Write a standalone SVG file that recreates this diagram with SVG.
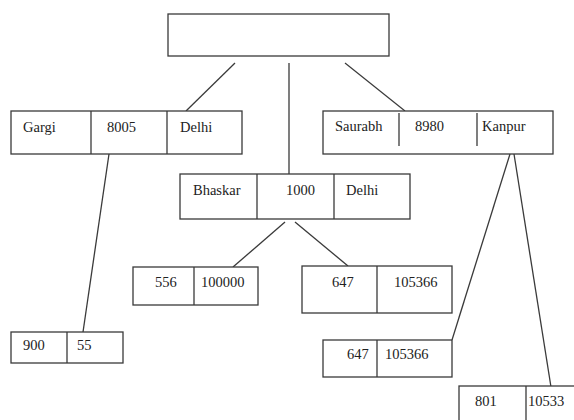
<svg xmlns="http://www.w3.org/2000/svg" width="574" height="420" viewBox="0 0 574 420" font-family="'Liberation Serif', 'Times New Roman', serif">
<style>
.box{fill:#fff;stroke:#3a3a3a;stroke-width:1.3}
.div{stroke:#3a3a3a;stroke-width:1.3}
.con{stroke:#3a3a3a;stroke-width:1.3;fill:none}
text{font-family:'Liberation Serif','Times New Roman',serif;font-size:14.5px;fill:#222}
</style>
<rect width="574" height="420" fill="#fff"/>
<g id="connectors">
<line class="con" x1="235" y1="63" x2="186" y2="111"/>
<line class="con" x1="289" y1="63" x2="289" y2="174"/>
<line class="con" x1="345" y1="63" x2="405" y2="111"/>
<line class="con" x1="109" y1="154" x2="83" y2="332"/>
<line class="con" x1="285" y1="222" x2="233" y2="267"/>
<line class="con" x1="295" y1="222" x2="348" y2="266"/>
<line class="con" x1="510" y1="154" x2="452" y2="340"/>
<line class="con" x1="514" y1="154" x2="551" y2="387"/>
</g>
<g id="root">
<rect class="box" x="168" y="14" width="221" height="42"/>
</g>
<g id="gargi">
<rect class="box" x="11" y="111" width="231" height="43"/>
<line class="div" x1="91" y1="111" x2="91" y2="154"/>
<line class="div" x1="167" y1="111" x2="167" y2="154"/>
<text x="23" y="132">Gargi</text>
<text x="107" y="132">8005</text>
<text x="180" y="132">Delhi</text>
</g>
<g id="saurabh">
<rect class="box" x="323" y="111" width="230" height="43"/>
<line class="div" x1="399" y1="113" x2="399" y2="146"/>
<line class="div" x1="477" y1="113" x2="477" y2="146"/>
<text x="335" y="131">Saurabh</text>
<text x="415" y="131">8980</text>
<text x="482" y="131">Kanpur</text>
</g>
<g id="bhaskar">
<rect class="box" x="180" y="174" width="230" height="45"/>
<line class="div" x1="257" y1="174" x2="257" y2="219"/>
<line class="div" x1="334" y1="174" x2="334" y2="219"/>
<text x="193" y="195">Bhaskar</text>
<text x="286" y="195">1000</text>
<text x="346" y="195">Delhi</text>
</g>
<g id="n556">
<rect class="box" x="133" y="267" width="125" height="38"/>
<line class="div" x1="194" y1="267" x2="194" y2="305"/>
<text x="155" y="287">556</text>
<text x="201" y="287">100000</text>
</g>
<g id="n647a">
<rect class="box" x="302" y="266" width="150" height="47"/>
<line class="div" x1="377" y1="266" x2="377" y2="313"/>
<text x="332" y="287">647</text>
<text x="394" y="287">105366</text>
</g>
<g id="n900">
<rect class="box" x="11" y="332" width="112" height="31"/>
<line class="div" x1="67" y1="332" x2="67" y2="363"/>
<text x="23" y="350">900</text>
<text x="77" y="350">55</text>
</g>
<g id="n647b">
<rect class="box" x="323" y="340" width="129" height="37"/>
<line class="div" x1="377" y1="340" x2="377" y2="377"/>
<text x="347" y="359">647</text>
<text x="385" y="359">105366</text>
</g>
<g id="n801">
<rect class="box" x="459" y="386" width="130" height="50"/>
<line class="div" x1="526" y1="386" x2="526" y2="436"/>
<text x="475" y="406">801</text>
<text x="528" y="406">10533</text>
</g>
</svg>
